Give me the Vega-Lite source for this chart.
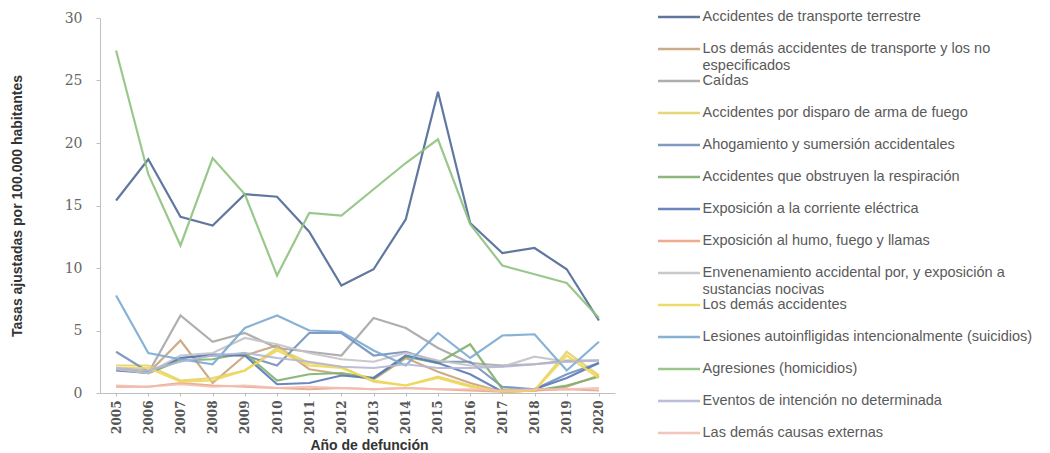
{
  "$schema": "https://vega.github.io/schema/vega-lite/v6.json",
  "width": 515,
  "height": 375,
  "autosize": {"type": "none"},
  "padding": {"left": 100, "top": 18, "right": 435, "bottom": 60},
  "background": "white",
  "config": {
    "view": {"stroke": null},
    "axis": {"grid": false, "domainColor": "#BFBFBF", "tickColor": "#BFBFBF", "labelColor": "#595959", "titleColor": "#404040"}
  },
  "data": {"values": [
    {"año":"2005","serie":"Accidentes de transporte terrestre","tasa":15.4},
    {"año":"2006","serie":"Accidentes de transporte terrestre","tasa":18.7},
    {"año":"2007","serie":"Accidentes de transporte terrestre","tasa":14.1},
    {"año":"2008","serie":"Accidentes de transporte terrestre","tasa":13.4},
    {"año":"2009","serie":"Accidentes de transporte terrestre","tasa":15.9},
    {"año":"2010","serie":"Accidentes de transporte terrestre","tasa":15.7},
    {"año":"2011","serie":"Accidentes de transporte terrestre","tasa":12.9},
    {"año":"2012","serie":"Accidentes de transporte terrestre","tasa":8.6},
    {"año":"2013","serie":"Accidentes de transporte terrestre","tasa":9.9},
    {"año":"2014","serie":"Accidentes de transporte terrestre","tasa":13.9},
    {"año":"2015","serie":"Accidentes de transporte terrestre","tasa":24.1},
    {"año":"2016","serie":"Accidentes de transporte terrestre","tasa":13.6},
    {"año":"2017","serie":"Accidentes de transporte terrestre","tasa":11.2},
    {"año":"2018","serie":"Accidentes de transporte terrestre","tasa":11.6},
    {"año":"2019","serie":"Accidentes de transporte terrestre","tasa":9.9},
    {"año":"2020","serie":"Accidentes de transporte terrestre","tasa":5.8},

    {"año":"2005","serie":"Los demás accidentes de transporte y los no especificados","tasa":1.9},
    {"año":"2006","serie":"Los demás accidentes de transporte y los no especificados","tasa":1.6},
    {"año":"2007","serie":"Los demás accidentes de transporte y los no especificados","tasa":4.2},
    {"año":"2008","serie":"Los demás accidentes de transporte y los no especificados","tasa":0.8},
    {"año":"2009","serie":"Los demás accidentes de transporte y los no especificados","tasa":3.0},
    {"año":"2010","serie":"Los demás accidentes de transporte y los no especificados","tasa":3.8},
    {"año":"2011","serie":"Los demás accidentes de transporte y los no especificados","tasa":1.9},
    {"año":"2012","serie":"Los demás accidentes de transporte y los no especificados","tasa":1.5},
    {"año":"2013","serie":"Los demás accidentes de transporte y los no especificados","tasa":1.1},
    {"año":"2014","serie":"Los demás accidentes de transporte y los no especificados","tasa":2.8},
    {"año":"2015","serie":"Los demás accidentes de transporte y los no especificados","tasa":1.7},
    {"año":"2016","serie":"Los demás accidentes de transporte y los no especificados","tasa":0.8},
    {"año":"2017","serie":"Los demás accidentes de transporte y los no especificados","tasa":0.1},
    {"año":"2018","serie":"Los demás accidentes de transporte y los no especificados","tasa":0.2},
    {"año":"2019","serie":"Los demás accidentes de transporte y los no especificados","tasa":0.5},
    {"año":"2020","serie":"Los demás accidentes de transporte y los no especificados","tasa":1.4},

    {"año":"2005","serie":"Caídas","tasa":2.0},
    {"año":"2006","serie":"Caídas","tasa":1.6},
    {"año":"2007","serie":"Caídas","tasa":6.2},
    {"año":"2008","serie":"Caídas","tasa":4.1},
    {"año":"2009","serie":"Caídas","tasa":4.8},
    {"año":"2010","serie":"Caídas","tasa":3.6},
    {"año":"2011","serie":"Caídas","tasa":3.3},
    {"año":"2012","serie":"Caídas","tasa":3.0},
    {"año":"2013","serie":"Caídas","tasa":6.0},
    {"año":"2014","serie":"Caídas","tasa":5.2},
    {"año":"2015","serie":"Caídas","tasa":3.6},
    {"año":"2016","serie":"Caídas","tasa":2.4},
    {"año":"2017","serie":"Caídas","tasa":2.2},
    {"año":"2018","serie":"Caídas","tasa":2.3},
    {"año":"2019","serie":"Caídas","tasa":2.6},
    {"año":"2020","serie":"Caídas","tasa":2.6},

    {"año":"2005","serie":"Accidentes por disparo de arma de fuego","tasa":2.2},
    {"año":"2006","serie":"Accidentes por disparo de arma de fuego","tasa":2.2},
    {"año":"2007","serie":"Accidentes por disparo de arma de fuego","tasa":1.0},
    {"año":"2008","serie":"Accidentes por disparo de arma de fuego","tasa":1.2},
    {"año":"2009","serie":"Accidentes por disparo de arma de fuego","tasa":1.8},
    {"año":"2010","serie":"Accidentes por disparo de arma de fuego","tasa":3.6},
    {"año":"2011","serie":"Accidentes por disparo de arma de fuego","tasa":2.4},
    {"año":"2012","serie":"Accidentes por disparo de arma de fuego","tasa":2.1},
    {"año":"2013","serie":"Accidentes por disparo de arma de fuego","tasa":0.9},
    {"año":"2014","serie":"Accidentes por disparo de arma de fuego","tasa":0.6},
    {"año":"2015","serie":"Accidentes por disparo de arma de fuego","tasa":1.3},
    {"año":"2016","serie":"Accidentes por disparo de arma de fuego","tasa":0.6},
    {"año":"2017","serie":"Accidentes por disparo de arma de fuego","tasa":0.1},
    {"año":"2018","serie":"Accidentes por disparo de arma de fuego","tasa":0.2},
    {"año":"2019","serie":"Accidentes por disparo de arma de fuego","tasa":3.3},
    {"año":"2020","serie":"Accidentes por disparo de arma de fuego","tasa":1.4},

    {"año":"2005","serie":"Ahogamiento y sumersión accidentales","tasa":3.3},
    {"año":"2006","serie":"Ahogamiento y sumersión accidentales","tasa":1.7},
    {"año":"2007","serie":"Ahogamiento y sumersión accidentales","tasa":2.8},
    {"año":"2008","serie":"Ahogamiento y sumersión accidentales","tasa":3.1},
    {"año":"2009","serie":"Ahogamiento y sumersión accidentales","tasa":3.0},
    {"año":"2010","serie":"Ahogamiento y sumersión accidentales","tasa":2.2},
    {"año":"2011","serie":"Ahogamiento y sumersión accidentales","tasa":4.8},
    {"año":"2012","serie":"Ahogamiento y sumersión accidentales","tasa":4.8},
    {"año":"2013","serie":"Ahogamiento y sumersión accidentales","tasa":3.0},
    {"año":"2014","serie":"Ahogamiento y sumersión accidentales","tasa":3.3},
    {"año":"2015","serie":"Ahogamiento y sumersión accidentales","tasa":2.5},
    {"año":"2016","serie":"Ahogamiento y sumersión accidentales","tasa":2.5},
    {"año":"2017","serie":"Ahogamiento y sumersión accidentales","tasa":0.5},
    {"año":"2018","serie":"Ahogamiento y sumersión accidentales","tasa":0.3},
    {"año":"2019","serie":"Ahogamiento y sumersión accidentales","tasa":1.5},
    {"año":"2020","serie":"Ahogamiento y sumersión accidentales","tasa":2.4},

    {"año":"2005","serie":"Accidentes que obstruyen la respiración","tasa":2.0},
    {"año":"2006","serie":"Accidentes que obstruyen la respiración","tasa":1.6},
    {"año":"2007","serie":"Accidentes que obstruyen la respiración","tasa":2.6},
    {"año":"2008","serie":"Accidentes que obstruyen la respiración","tasa":2.7},
    {"año":"2009","serie":"Accidentes que obstruyen la respiración","tasa":3.2},
    {"año":"2010","serie":"Accidentes que obstruyen la respiración","tasa":1.0},
    {"año":"2011","serie":"Accidentes que obstruyen la respiración","tasa":1.5},
    {"año":"2012","serie":"Accidentes que obstruyen la respiración","tasa":1.6},
    {"año":"2013","serie":"Accidentes que obstruyen la respiración","tasa":1.2},
    {"año":"2014","serie":"Accidentes que obstruyen la respiración","tasa":2.9},
    {"año":"2015","serie":"Accidentes que obstruyen la respiración","tasa":2.4},
    {"año":"2016","serie":"Accidentes que obstruyen la respiración","tasa":3.9},
    {"año":"2017","serie":"Accidentes que obstruyen la respiración","tasa":0.3},
    {"año":"2018","serie":"Accidentes que obstruyen la respiración","tasa":0.2},
    {"año":"2019","serie":"Accidentes que obstruyen la respiración","tasa":0.6},
    {"año":"2020","serie":"Accidentes que obstruyen la respiración","tasa":1.3},

    {"año":"2005","serie":"Exposición a la corriente eléctrica","tasa":1.8},
    {"año":"2006","serie":"Exposición a la corriente eléctrica","tasa":1.6},
    {"año":"2007","serie":"Exposición a la corriente eléctrica","tasa":2.8},
    {"año":"2008","serie":"Exposición a la corriente eléctrica","tasa":3.0},
    {"año":"2009","serie":"Exposición a la corriente eléctrica","tasa":3.0},
    {"año":"2010","serie":"Exposición a la corriente eléctrica","tasa":0.7},
    {"año":"2011","serie":"Exposición a la corriente eléctrica","tasa":0.8},
    {"año":"2012","serie":"Exposición a la corriente eléctrica","tasa":1.4},
    {"año":"2013","serie":"Exposición a la corriente eléctrica","tasa":1.2},
    {"año":"2014","serie":"Exposición a la corriente eléctrica","tasa":3.0},
    {"año":"2015","serie":"Exposición a la corriente eléctrica","tasa":2.4},
    {"año":"2016","serie":"Exposición a la corriente eléctrica","tasa":1.5},
    {"año":"2017","serie":"Exposición a la corriente eléctrica","tasa":0.1},
    {"año":"2018","serie":"Exposición a la corriente eléctrica","tasa":0.3},
    {"año":"2019","serie":"Exposición a la corriente eléctrica","tasa":1.2},
    {"año":"2020","serie":"Exposición a la corriente eléctrica","tasa":2.4},

    {"año":"2005","serie":"Exposición al humo, fuego y llamas","tasa":0.5},
    {"año":"2006","serie":"Exposición al humo, fuego y llamas","tasa":0.5},
    {"año":"2007","serie":"Exposición al humo, fuego y llamas","tasa":0.8},
    {"año":"2008","serie":"Exposición al humo, fuego y llamas","tasa":0.6},
    {"año":"2009","serie":"Exposición al humo, fuego y llamas","tasa":0.5},
    {"año":"2010","serie":"Exposición al humo, fuego y llamas","tasa":0.4},
    {"año":"2011","serie":"Exposición al humo, fuego y llamas","tasa":0.3},
    {"año":"2012","serie":"Exposición al humo, fuego y llamas","tasa":0.4},
    {"año":"2013","serie":"Exposición al humo, fuego y llamas","tasa":0.3},
    {"año":"2014","serie":"Exposición al humo, fuego y llamas","tasa":0.4},
    {"año":"2015","serie":"Exposición al humo, fuego y llamas","tasa":0.3},
    {"año":"2016","serie":"Exposición al humo, fuego y llamas","tasa":0.2},
    {"año":"2017","serie":"Exposición al humo, fuego y llamas","tasa":0.1},
    {"año":"2018","serie":"Exposición al humo, fuego y llamas","tasa":0.2},
    {"año":"2019","serie":"Exposición al humo, fuego y llamas","tasa":0.3},
    {"año":"2020","serie":"Exposición al humo, fuego y llamas","tasa":0.2},

    {"año":"2005","serie":"Envenenamiento accidental por, y exposición a sustancias nocivas","tasa":1.9},
    {"año":"2006","serie":"Envenenamiento accidental por, y exposición a sustancias nocivas","tasa":1.6},
    {"año":"2007","serie":"Envenenamiento accidental por, y exposición a sustancias nocivas","tasa":3.0},
    {"año":"2008","serie":"Envenenamiento accidental por, y exposición a sustancias nocivas","tasa":3.2},
    {"año":"2009","serie":"Envenenamiento accidental por, y exposición a sustancias nocivas","tasa":4.4},
    {"año":"2010","serie":"Envenenamiento accidental por, y exposición a sustancias nocivas","tasa":3.9},
    {"año":"2011","serie":"Envenenamiento accidental por, y exposición a sustancias nocivas","tasa":3.2},
    {"año":"2012","serie":"Envenenamiento accidental por, y exposición a sustancias nocivas","tasa":2.7},
    {"año":"2013","serie":"Envenenamiento accidental por, y exposición a sustancias nocivas","tasa":2.5},
    {"año":"2014","serie":"Envenenamiento accidental por, y exposición a sustancias nocivas","tasa":3.2},
    {"año":"2015","serie":"Envenenamiento accidental por, y exposición a sustancias nocivas","tasa":2.6},
    {"año":"2016","serie":"Envenenamiento accidental por, y exposición a sustancias nocivas","tasa":2.2},
    {"año":"2017","serie":"Envenenamiento accidental por, y exposición a sustancias nocivas","tasa":2.1},
    {"año":"2018","serie":"Envenenamiento accidental por, y exposición a sustancias nocivas","tasa":2.9},
    {"año":"2019","serie":"Envenenamiento accidental por, y exposición a sustancias nocivas","tasa":2.5},
    {"año":"2020","serie":"Envenenamiento accidental por, y exposición a sustancias nocivas","tasa":2.6},

    {"año":"2005","serie":"Los demás accidentes","tasa":2.0},
    {"año":"2006","serie":"Los demás accidentes","tasa":2.0},
    {"año":"2007","serie":"Los demás accidentes","tasa":0.9},
    {"año":"2008","serie":"Los demás accidentes","tasa":1.0},
    {"año":"2009","serie":"Los demás accidentes","tasa":1.8},
    {"año":"2010","serie":"Los demás accidentes","tasa":3.4},
    {"año":"2011","serie":"Los demás accidentes","tasa":2.2},
    {"año":"2012","serie":"Los demás accidentes","tasa":2.0},
    {"año":"2013","serie":"Los demás accidentes","tasa":1.0},
    {"año":"2014","serie":"Los demás accidentes","tasa":0.6},
    {"año":"2015","serie":"Los demás accidentes","tasa":1.2},
    {"año":"2016","serie":"Los demás accidentes","tasa":0.5},
    {"año":"2017","serie":"Los demás accidentes","tasa":0.1},
    {"año":"2018","serie":"Los demás accidentes","tasa":0.2},
    {"año":"2019","serie":"Los demás accidentes","tasa":3.0},
    {"año":"2020","serie":"Los demás accidentes","tasa":1.2},

    {"año":"2005","serie":"Lesiones autoinfligidas intencionalmente (suicidios)","tasa":7.8},
    {"año":"2006","serie":"Lesiones autoinfligidas intencionalmente (suicidios)","tasa":3.2},
    {"año":"2007","serie":"Lesiones autoinfligidas intencionalmente (suicidios)","tasa":2.7},
    {"año":"2008","serie":"Lesiones autoinfligidas intencionalmente (suicidios)","tasa":2.3},
    {"año":"2009","serie":"Lesiones autoinfligidas intencionalmente (suicidios)","tasa":5.2},
    {"año":"2010","serie":"Lesiones autoinfligidas intencionalmente (suicidios)","tasa":6.2},
    {"año":"2011","serie":"Lesiones autoinfligidas intencionalmente (suicidios)","tasa":5.0},
    {"año":"2012","serie":"Lesiones autoinfligidas intencionalmente (suicidios)","tasa":4.9},
    {"año":"2013","serie":"Lesiones autoinfligidas intencionalmente (suicidios)","tasa":3.4},
    {"año":"2014","serie":"Lesiones autoinfligidas intencionalmente (suicidios)","tasa":2.2},
    {"año":"2015","serie":"Lesiones autoinfligidas intencionalmente (suicidios)","tasa":4.8},
    {"año":"2016","serie":"Lesiones autoinfligidas intencionalmente (suicidios)","tasa":2.8},
    {"año":"2017","serie":"Lesiones autoinfligidas intencionalmente (suicidios)","tasa":4.6},
    {"año":"2018","serie":"Lesiones autoinfligidas intencionalmente (suicidios)","tasa":4.7},
    {"año":"2019","serie":"Lesiones autoinfligidas intencionalmente (suicidios)","tasa":1.8},
    {"año":"2020","serie":"Lesiones autoinfligidas intencionalmente (suicidios)","tasa":4.1},

    {"año":"2005","serie":"Agresiones (homicidios)","tasa":27.4},
    {"año":"2006","serie":"Agresiones (homicidios)","tasa":17.5},
    {"año":"2007","serie":"Agresiones (homicidios)","tasa":11.8},
    {"año":"2008","serie":"Agresiones (homicidios)","tasa":18.8},
    {"año":"2009","serie":"Agresiones (homicidios)","tasa":15.9},
    {"año":"2010","serie":"Agresiones (homicidios)","tasa":9.4},
    {"año":"2011","serie":"Agresiones (homicidios)","tasa":14.4},
    {"año":"2012","serie":"Agresiones (homicidios)","tasa":14.2},
    {"año":"2013","serie":"Agresiones (homicidios)","tasa":16.3},
    {"año":"2014","serie":"Agresiones (homicidios)","tasa":18.4},
    {"año":"2015","serie":"Agresiones (homicidios)","tasa":20.3},
    {"año":"2016","serie":"Agresiones (homicidios)","tasa":13.5},
    {"año":"2017","serie":"Agresiones (homicidios)","tasa":10.2},
    {"año":"2018","serie":"Agresiones (homicidios)","tasa":9.5},
    {"año":"2019","serie":"Agresiones (homicidios)","tasa":8.8},
    {"año":"2020","serie":"Agresiones (homicidios)","tasa":6.0},

    {"año":"2005","serie":"Eventos de intención no determinada","tasa":2.0},
    {"año":"2006","serie":"Eventos de intención no determinada","tasa":1.8},
    {"año":"2007","serie":"Eventos de intención no determinada","tasa":2.5},
    {"año":"2008","serie":"Eventos de intención no determinada","tasa":3.0},
    {"año":"2009","serie":"Eventos de intención no determinada","tasa":3.2},
    {"año":"2010","serie":"Eventos de intención no determinada","tasa":2.8},
    {"año":"2011","serie":"Eventos de intención no determinada","tasa":2.5},
    {"año":"2012","serie":"Eventos de intención no determinada","tasa":2.1},
    {"año":"2013","serie":"Eventos de intención no determinada","tasa":2.0},
    {"año":"2014","serie":"Eventos de intención no determinada","tasa":2.3},
    {"año":"2015","serie":"Eventos de intención no determinada","tasa":2.0},
    {"año":"2016","serie":"Eventos de intención no determinada","tasa":2.0},
    {"año":"2017","serie":"Eventos de intención no determinada","tasa":2.1},
    {"año":"2018","serie":"Eventos de intención no determinada","tasa":2.3},
    {"año":"2019","serie":"Eventos de intención no determinada","tasa":2.5},
    {"año":"2020","serie":"Eventos de intención no determinada","tasa":2.6},

    {"año":"2005","serie":"Las demás causas externas","tasa":0.6},
    {"año":"2006","serie":"Las demás causas externas","tasa":0.5},
    {"año":"2007","serie":"Las demás causas externas","tasa":0.7},
    {"año":"2008","serie":"Las demás causas externas","tasa":0.5},
    {"año":"2009","serie":"Las demás causas externas","tasa":0.6},
    {"año":"2010","serie":"Las demás causas externas","tasa":0.4},
    {"año":"2011","serie":"Las demás causas externas","tasa":0.5},
    {"año":"2012","serie":"Las demás causas externas","tasa":0.4},
    {"año":"2013","serie":"Las demás causas externas","tasa":0.3},
    {"año":"2014","serie":"Las demás causas externas","tasa":0.4},
    {"año":"2015","serie":"Las demás causas externas","tasa":0.3},
    {"año":"2016","serie":"Las demás causas externas","tasa":0.3},
    {"año":"2017","serie":"Las demás causas externas","tasa":0.2},
    {"año":"2018","serie":"Las demás causas externas","tasa":0.3},
    {"año":"2019","serie":"Las demás causas externas","tasa":0.3},
    {"año":"2020","serie":"Las demás causas externas","tasa":0.4}
  ]},
  "mark": {"type": "line", "strokeWidth": 2.2, "opacity": 0.9},
  "encoding": {
    "x": {
      "field": "año", "type": "ordinal",
      "scale": {"type": "point", "padding": 0.5},
      "axis": {
        "title": "Año de defunción", "titleFont": "Liberation Sans", "titleFontSize": 14, "titleFontWeight": "bold", "titleColor": "#333333", "titlePadding": 5, "titleX": 269,
        "labelAngle": -90, "labelFont": "DejaVu Serif", "labelFontSize": 12, "labelFontWeight": "bold", "labelColor": "#555555", "labelPadding": 4,
        "ticks": true, "tickSize": 3
      }
    },
    "y": {
      "field": "tasa", "type": "quantitative",
      "scale": {"domain": [0, 30], "nice": false},
      "axis": {
        "values": [0, 5, 10, 15, 20, 25, 30],
        "title": "Tasas ajustadas por 100.000 habitantes", "titleFont": "Liberation Sans", "titleFontSize": 14, "titleFontWeight": "bold", "titleColor": "#333333", "titlePadding": 40,
        "labelFont": "DejaVu Serif", "labelFontSize": 14, "labelColor": "#666666", "labelPadding": 14,
        "tickSize": 4
      }
    },
    "color": {
      "field": "serie", "type": "nominal",
      "scale": {
        "domain": [
          "Accidentes de transporte terrestre",
          "Los demás accidentes de transporte y los no especificados",
          "Caídas",
          "Accidentes por disparo de arma de fuego",
          "Ahogamiento y sumersión accidentales",
          "Accidentes que obstruyen la respiración",
          "Exposición a la corriente eléctrica",
          "Exposición al humo, fuego y llamas",
          "Envenenamiento accidental por, y exposición a sustancias nocivas",
          "Los demás accidentes",
          "Lesiones autoinfligidas intencionalmente (suicidios)",
          "Agresiones (homicidios)",
          "Eventos de intención no determinada",
          "Las demás causas externas"
        ],
        "range": ["#4F6896", "#C9A27C", "#A6A6A6", "#E3D36A", "#7390BC", "#7FB06C", "#5A79B5", "#E9A582", "#C3C3C8", "#EFD757", "#7AAAD2", "#8FC27F", "#B5B7D4", "#F2BFB6"]
      },
      "legend": {
        "title": null, "orient": "none", "legendX": 558, "legendY": -8.25,
        "symbolType": "M-14.5,0H69.5", "symbolSize": 1, "symbolStrokeWidth": 2.5,
        "labelFont": "Liberation Sans", "labelFontSize": 14.5, "labelColor": "#5A5A5A", "labelLimit": 400, "labelOffset": 30,
        "rowPadding": 0, "padding": 0, "gridAlign": "all",
        "labelExpr": "datum.label == 'Los demás accidentes de transporte y los no especificados' ? ['Los demás accidentes de transporte y los no', 'especificados'] : datum.label == 'Envenenamiento accidental por, y exposición a sustancias nocivas' ? ['Envenenamiento accidental por, y exposición a', 'sustancias nocivas'] : datum.label"
      }
    }
  }
}
